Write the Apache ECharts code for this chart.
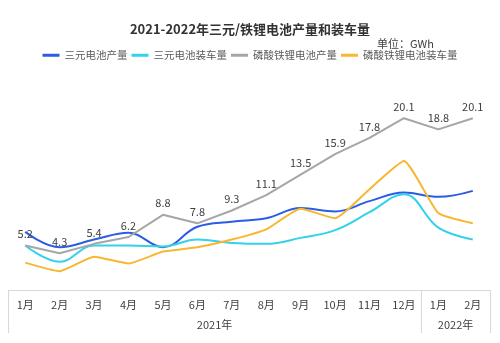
<!DOCTYPE html>
<html><head><meta charset="utf-8">
<script src="https://cdn.jsdelivr.net/npm/echarts@6/dist/echarts.min.js"></script>
<style>html,body{margin:0;padding:0;background:#fff}#c{width:500px;height:343px}</style>
</head><body><div id="c"></div>
<script>
const months = ['1月','2月','3月','4月','5月','6月','7月','8月','9月','10月','11月','12月','1月','2月'];
const years = ['2021年','2022年'];
const monthsPerYear = [12, 2];
const seriesNames = ['三元电池产量','三元电池装车量','磷酸铁锂电池产量','磷酸铁锂电池装车量'];
const ternaryProd = [6.8, 5.0, 5.9, 6.7, 5.0, 7.4, 8.0, 8.4, 9.6, 9.2, 10.4, 11.4, 10.9, 11.6];
const ternaryInst = [5.2, 3.3, 5.2, 5.2, 5.1, 5.9, 5.5, 5.4, 6.1, 7.0, 9.1, 11.2, 7.3, 5.9];
const lfpProd = [5.2, 4.3, 5.4, 6.2, 8.8, 7.8, 9.3, 11.1, 13.5, 15.9, 17.8, 20.1, 18.8, 20.1];
const lfpInst = [3.2, 2.2, 3.9, 3.1, 4.5, 5.0, 5.9, 7.1, 9.5, 8.4, 11.8, 15.1, 9.0, 7.8];

// year group centers & boundaries
const boundaries = [0];
const centers = [];
monthsPerYear.forEach((n, i) => { const s = boundaries[boundaries.length-1]; centers.push(s + n/2); boundaries.push(s + n); });

const chart = echarts.init(document.getElementById('c'));
const font = '"Noto Sans CJK SC","Noto Sans",sans-serif';
chart.setOption({
  backgroundColor: '#fff',
  textStyle: { fontFamily: font },
  title: [
    { text: '2021-2022年三元/铁锂电池产量和装车量', left: 'center', top: 18,
      textStyle: { fontSize: 13, fontWeight: 'bold', color: '#333', fontFamily: font } },
    { text: '单位：GWh', left: 372, top: 33,
      textStyle: { fontSize: 11, fontWeight: 'normal', color: '#404040', fontFamily: font } }
  ],
  legend: {
    top: 45, left: 'center', itemWidth: 17, itemHeight: 3, itemGap: 4, icon: 'rect',
    textStyle: { fontSize: 10.5, color: '#595959', fontFamily: font },
    data: seriesNames
  },
  grid: { left: 8, right: 10, top: 102, bottom: 53, containLabel: false },
  xAxis: [
    { type: 'category', data: months, boundaryGap: true,
      axisLine: { lineStyle: { color: '#d9d9d9' } },
      axisTick: { show: true, length: 43, lineStyle: { color: '#d9d9d9' },
        interval: (i) => boundaries.indexOf(i) >= 0 },
      axisLabel: { color: '#404040', fontSize: 11, margin: 9, interval: 0, fontFamily: font } },
    { type: 'value', position: 'bottom', offset: 22, min: 0, max: months.length,
      axisLine: { show: false }, axisTick: { show: false }, splitLine: { show: false },
      axisLabel: { customValues: centers, color: '#404040', fontSize: 11, margin: 7, fontFamily: font,
        formatter: (v) => years[centers.indexOf(v)] || '' } }
  ],
  yAxis: { type: 'value', min: 0, max: 22, show: false, splitLine: { show: false } },
  series: [
    { name: seriesNames[0], type: 'line', data: ternaryProd, smooth: 0.4, showSymbol: false,
      lineStyle: { width: 2, color: '#2a5ce6' }, itemStyle: { color: '#2a5ce6' } },
    { name: seriesNames[1], type: 'line', data: ternaryInst, smooth: 0.4, showSymbol: false,
      lineStyle: { width: 2, color: '#33d1ea' }, itemStyle: { color: '#33d1ea' } },
    { name: seriesNames[2], type: 'line', data: lfpProd, smooth: false, showSymbol: true,
      symbol: 'circle', symbolSize: 0,
      lineStyle: { width: 2, color: '#a6a6a6' }, itemStyle: { color: '#a6a6a6' },
      label: { show: true, position: 'top', distance: 6, color: '#404040', fontSize: 11, fontFamily: font } },
    { name: seriesNames[3], type: 'line', data: lfpInst, smooth: 0.15, showSymbol: false,
      lineStyle: { width: 2, color: '#f7b731' }, itemStyle: { color: '#f7b731' } }
  ]
});
</script></body></html>
